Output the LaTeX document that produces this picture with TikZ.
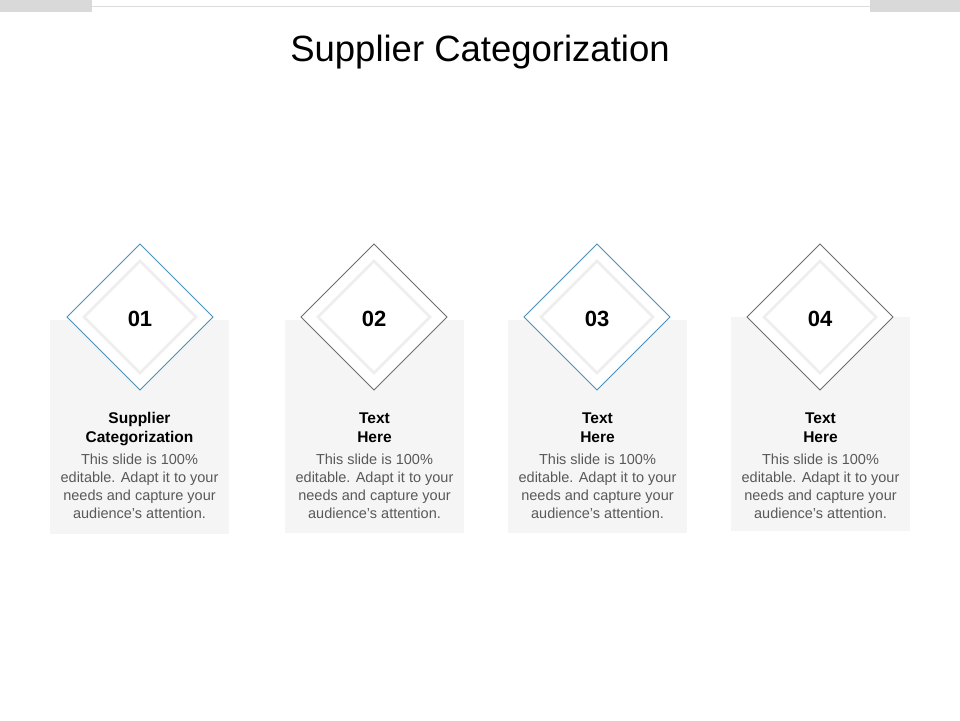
\documentclass[tikz,border=0pt]{standalone}
\usepackage{fontspec}
\setmainfont{Liberation Sans}
\definecolor{barg}{HTML}{D9D9D9}
\definecolor{lineg}{HTML}{DCDCDC}
\definecolor{cardg}{HTML}{F5F5F5}
\definecolor{innerg}{HTML}{EFEDED}
\definecolor{blueo}{HTML}{4A90B8}
\definecolor{grayo}{HTML}{6E6E6E}
\definecolor{bodyg}{HTML}{595959}
\tikzset{
  card/.style={fill=cardg, draw=none},
  outerdia/.style={fill=white, line width=0.8pt},
  innerdia/.style={draw=innerg, line width=2.5pt},
  numtxt/.style={font=\bfseries\fontsize{22}{26}\selectfont, anchor=base, inner sep=0pt},
  headtxt/.style={font=\bfseries\fontsize{15.5}{19}\selectfont, anchor=base, inner sep=0pt},
  bodytxt/.style={font=\fontsize{14.5}{17.9}\selectfont, text=bodyg, anchor=base, inner sep=0pt},
}
\begin{document}
\begin{tikzpicture}[x=1pt,y=-1pt]
\useasboundingbox (0,0) rectangle (960,720);
% top decoration
\fill[barg] (0,0) rectangle (92,11.5);
\fill[barg] (870,0) rectangle (960,11.5);
\draw[lineg, line width=1pt] (92,6) -- (870,6);
% title
\node[anchor=base, inner sep=0pt, font=\fontsize{36.5}{40}\selectfont] (title) at (480,61) {Supplier Categorization};
% cards
\fill[card] (50,320) rectangle (229,534);
\fill[card] (285,320) rectangle (464,533);
\fill[card] (508,320) rectangle (687,533);
\fill[card] (731,317) rectangle (910,531);
% diamonds
\foreach \cx/\col/\n in {140/blueo/01, 374/grayo/02, 597/blueo/03, 820/grayo/04}{
  \draw[outerdia, draw=\col] (\cx-73,317) -- (\cx,244) -- (\cx+73,317) -- (\cx,390) -- cycle;
  \draw[innerdia] (\cx-56,317) -- (\cx,261) -- (\cx+56,317) -- (\cx,373) -- cycle;
  \node[numtxt] (num\n) at (\cx,326) {\n};
}
% headings
\node[headtxt] (h1a) at (139.5,423) {Supplier};
\node[headtxt] (h1b) at (139.5,442) {Categorization};
\foreach \cx/\n in {374.5/2, 597.5/3, 820.5/4}{
  \node[headtxt] (h\n a) at (\cx,423) {Text};
  \node[headtxt] (h\n b) at (\cx,442) {Here};
}
% bodies
\foreach \cx/\n in {139.5/1, 374.5/2, 597.5/3, 820.5/4}{
  \node[bodytxt] (b\n a) at (\cx,464) {This slide is 100\%};
  \node[bodytxt] (b\n b) at (\cx,482) {editable. Adapt it to your};
  \node[bodytxt] (b\n c) at (\cx,500) {needs and capture your};
  \node[bodytxt] (b\n d) at (\cx,518) {audience's attention.};
}
\end{tikzpicture}
\end{document}
